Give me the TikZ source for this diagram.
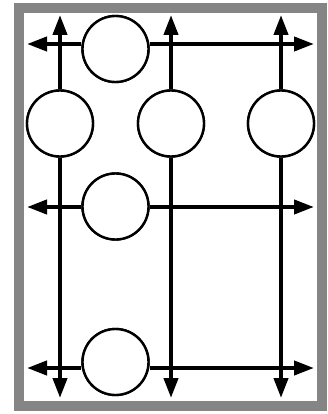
\documentclass[tikz,border=0pt]{standalone}
\usepackage{tikz}
\usetikzlibrary{arrows.meta,positioning}

\begin{document}
\begin{tikzpicture}[x=1pt,y=-1pt,
		spot/.style={circle,draw,line width=2.4pt,fill=white,minimum size=66pt,inner sep=0pt},
		ray/.style={line width=4pt,-{Triangle[length=20pt,width=14pt]}}]
			\useasboundingbox (0,0) rectangle (328,414);
			\draw[line width=10pt,draw=black!48] (19,8) rectangle (322,406);

			\node[spot] (1) at (115.5,49) {};
			\node[spot] (2) at (60,123.5) {};
			\node[spot] (3) at (171,123.5) {};
			\node[spot] (4) at (281,123.5) {};
			\node[spot] (5) at (115.5,206.5) {};
			\node[spot] (6) at (115.5,362) {};

			% free ends of the arrows
			\coordinate (2up) at (60,15);   \coordinate (2dn) at (60,398);
			\coordinate (3up) at (171,15);  \coordinate (3dn) at (171,398);
			\coordinate (4up) at (281,15);  \coordinate (4dn) at (281,398);
			\coordinate (1w) at (27,44);    \coordinate (1e) at (314,44);
			\coordinate (5w) at (27,207);   \coordinate (5e) at (314,207);
			\coordinate (6w) at (27,368);   \coordinate (6e) at (314,368);

			\draw[ray] (2) -- (2up);  \draw[ray] (2) -- (2dn);
			\draw[ray] (3) -- (3up);  \draw[ray] (3) -- (3dn);
			\draw[ray] (4) -- (4up);  \draw[ray] (4) -- (4dn);
			\draw[ray] (1.west |- 1w) -- (1w);  \draw[ray] (1.east |- 1e) -- (1e);
			\draw[ray] (5.west |- 5w) -- (5w);  \draw[ray] (5.east |- 5e) -- (5e);
			\draw[ray] (6.west |- 6w) -- (6w);  \draw[ray] (6.east |- 6e) -- (6e);

			% circles again on top of the crossing lines
			\foreach \n in {1,...,6} \node[spot] at (\n) {};
		\end{tikzpicture}
\end{document}
